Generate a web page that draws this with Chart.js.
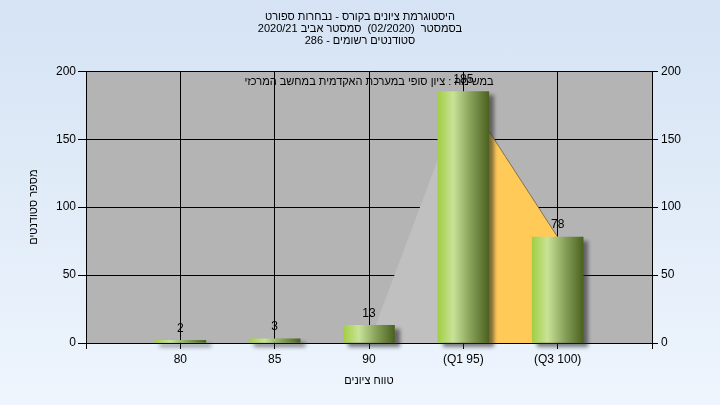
<!DOCTYPE html>
<html>
<head>
<meta charset="utf-8">
<script src="https://cdn.jsdelivr.net/npm/chart.js@4/dist/chart.umd.min.js"></script>
<style>
  body { margin: 0; }
  #wrap { width: 720px; height: 405px; background: linear-gradient(#d5e3f4, #eef5fd); }
</style>
</head>
<body>
<div id="wrap"><canvas id="histChart" width="720" height="405"></canvas></div>
<script>
// chart data
const categories = ['80', '85', '90', '(Q1 95)', '(Q3 100)'];
const students = [2, 3, 13, 185, 78];
const lowerBand = [null, null, 0, 185, null];   // grey area, 90 -> Q1
const upperBand = [null, null, null, 185, 78];  // yellow area, Q1 -> Q3
const yMin = 0, yMax = 200, yStep = 50;

const titleLines = [
    'היסטוגרמת ציונים בקורס - נבחרות ספורט',
    'בסמסטר  (02/2020)  סמסטר אביב 2020/21',
    'סטודנטים רשומים - 286'
];
const caption = 'במשימה : ציון סופי במערכת האקדמית במחשב המרכזי';
const xTitle = 'טווח ציונים';
const yTitle = 'מספר סטודנטים';

// empty slot at both ends of the x axis
const labels = ['', ...categories, ''];
const pad = arr => [null, ...arr, null];

const BAR_W = 51;
const FONT = 'Liberation Sans';
Chart.defaults.font.family = FONT;
Chart.defaults.font.size = 12;
Chart.defaults.color = '#000';

function barGradient(context) {
    const chart = context.chart;
    if (!chart.chartArea) return '#9dbb5a';
    const x = chart.scales.x.getPixelForValue(context.dataIndex);
    const g = chart.ctx.createLinearGradient(x - BAR_W / 2, 0, x + BAR_W / 2, 0);
    g.addColorStop(0, '#a2ce44');
    g.addColorStop(0.3, '#c8e398');
    g.addColorStop(0.65, '#869f58');
    g.addColorStop(1, '#4a621f');
    return g;
}

// grey plot background
const plotBg = {
    id: 'plotBg',
    beforeDraw(chart) {
        const {ctx: c, chartArea: a} = chart;
        c.save();
        c.fillStyle = '#b4b4b4';
        c.fillRect(a.left, a.top, a.right - a.left, a.bottom - a.top);
        c.restore();
    }
};

// drop shadow behind the bars
const barShadow = {
    id: 'barShadow',
    beforeDatasetDraw(chart, args) {
        if (args.meta.type !== 'bar') return;
        const c = chart.ctx;
        c.save();
        c.shadowColor = 'rgba(40,40,40,0.6)';
        c.shadowOffsetX = 5;
        c.shadowOffsetY = 4;
        c.shadowBlur = 4;
    },
    afterDatasetDraw(chart, args) {
        if (args.meta.type === 'bar') chart.ctx.restore();
    }
};

// value labels over bars + caption at top of plot
const barLabels = {
    id: 'barLabels',
    afterDatasetsDraw(chart) {
        const c = chart.ctx;
        const area = chart.chartArea;
        c.save();
        c.fillStyle = '#000';
        c.textAlign = 'center';
        c.textBaseline = 'middle';
        c.font = '11px ' + FONT;
        c.fillText(caption, (area.left + area.right) / 2, area.top + 11);
        c.font = '12px ' + FONT;
        c.textBaseline = 'bottom';
        chart.data.datasets.forEach((ds, i) => {
            const meta = chart.getDatasetMeta(i);
            if (meta.type !== 'bar') return;
            meta.data.forEach((el, j) => {
                if (ds.data[j] == null) return;
                c.fillText(ds.data[j], el.x, el.y - 6);
            });
        });
        c.restore();
    }
};

const ctx = document.getElementById('histChart').getContext('2d');
new Chart(ctx, {
    data: {
        labels: labels,
        datasets: [
            {
                type: 'bar',
                data: pad(students),
                backgroundColor: barGradient,
                barThickness: BAR_W,
                borderWidth: 0,
                clip: false,
                order: 0
            },
            {
                type: 'line',
                data: pad(lowerBand),
                backgroundColor: '#c0c0c0',
                borderWidth: 0,
                pointRadius: 0,
                fill: 'origin',
                order: 1
            },
            {
                type: 'line',
                data: pad(upperBand),
                backgroundColor: '#ffca58',
                borderColor: 'rgba(110,95,60,0.8)',
                borderWidth: 1,
                pointRadius: 0,
                fill: 'origin',
                order: 1
            }
        ]
    },
    options: {
        responsive: false,
        animation: false,
        layout: { padding: 0 },
        plugins: {
            legend: { display: false },
            tooltip: { enabled: false },
            title: {
                display: true,
                text: titleLines,
                color: '#000',
                font: { size: 11, weight: 'normal', lineHeight: 1.1 },
                padding: { top: 11, bottom: 24 }
            }
        },
        scales: {
            x: {
                type: 'category',
                offset: false,
                grid: { offset: false, color: '#000', lineWidth: 1, tickLength: 6 },
                border: { color: '#000' },
                ticks: { autoSkip: false, maxRotation: 0, padding: 3 },
                title: { display: true, text: xTitle, font: { size: 11 }, padding: { top: 0, bottom: 17 } },
                afterFit(scale) { scale.height = 62; }
            },
            y: {
                position: 'left',
                min: yMin,
                max: yMax,
                grid: { color: '#000', lineWidth: 1, tickLength: 8 },
                border: { color: '#000' },
                ticks: { stepSize: yStep, padding: 2 },
                title: { display: true, text: yTitle, font: { size: 11 }, padding: { top: 27, bottom: 0 } },
                afterFit(scale) { scale.width = 86; }
            },
            y2: {
                position: 'right',
                min: yMin,
                max: yMax,
                grid: { drawOnChartArea: false, color: '#000', tickLength: 6 },
                border: { color: '#000' },
                ticks: { stepSize: yStep, padding: 3 },
                afterFit(scale) { scale.width = 68; }
            }
        }
    },
    plugins: [plotBg, barShadow, barLabels]
});
</script>
</body>
</html>
